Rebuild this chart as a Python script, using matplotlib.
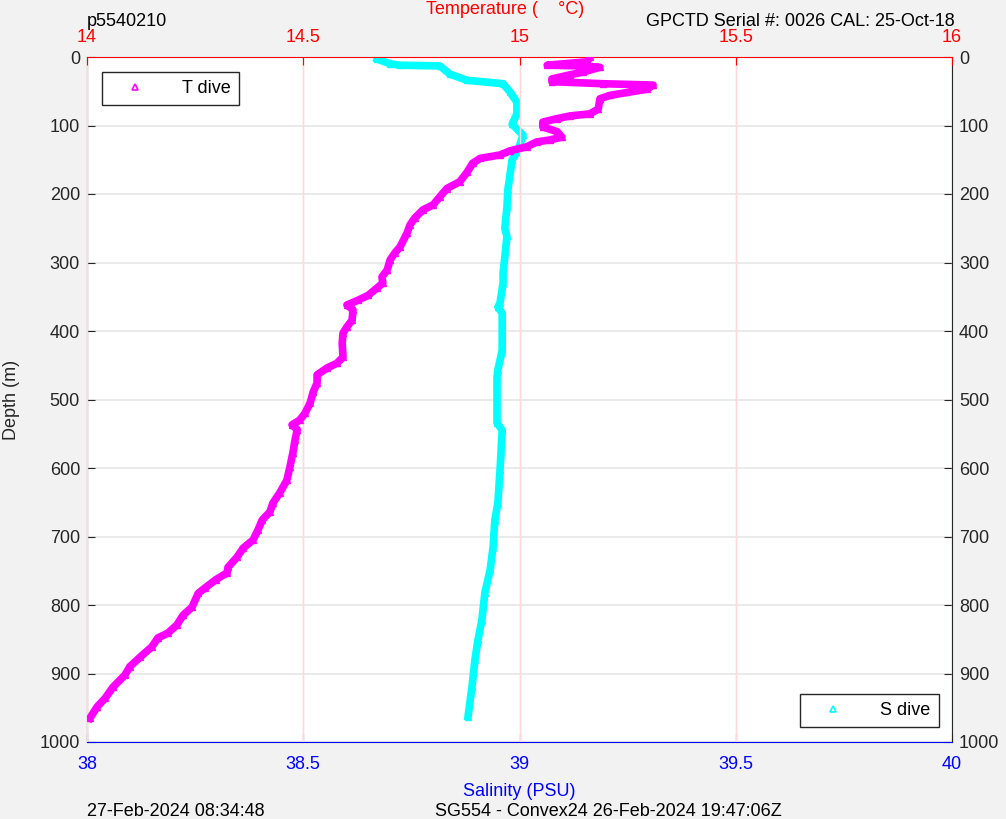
import matplotlib
matplotlib.use("Agg")
import matplotlib.pyplot as plt
from matplotlib.lines import Line2D

plt.rcParams['font.family'] = ['Liberation Sans', 'DejaVu Sans']

# ---- data ----
t_depth = [0, 7, 12, 13, 15, 22, 26, 32, 36, 39, 41, 47, 56, 61, 76, 83, 86, 90, 95, 102,
           109, 117, 121, 124, 131, 137, 143, 148, 155, 168, 182, 192, 204, 216, 223, 235,
           245, 257, 277, 286, 296, 311, 321, 330, 337, 348, 355, 362, 369, 384, 394, 403,
           418, 438, 447, 454, 464, 476, 489, 505, 520, 530, 537, 544, 559, 578, 599, 618,
           636, 651, 664, 676, 691, 705, 717, 730, 745, 753, 763, 775, 783, 803, 815, 829,
           841, 848, 861, 876, 890, 902, 920, 936, 949, 965]
t_temp = [15.163, 15.156, 15.064, 15.147, 15.186, 15.147, 15.117, 15.075, 15.075, 15.193,
          15.309, 15.295, 15.209, 15.186, 15.182, 15.163, 15.117, 15.087, 15.054, 15.054,
          15.087, 15.098, 15.071, 15.040, 15.017, 14.978, 14.955, 14.909, 14.892, 14.879,
          14.862, 14.832, 14.816, 14.800, 14.777, 14.758, 14.747, 14.740, 14.724, 14.712,
          14.701, 14.694, 14.682, 14.684, 14.671, 14.650, 14.627, 14.601, 14.615, 14.613,
          14.601, 14.592, 14.590, 14.592, 14.578, 14.555, 14.532, 14.532, 14.523, 14.516,
          14.504, 14.492, 14.474, 14.486, 14.481, 14.476, 14.469, 14.462, 14.446, 14.430,
          14.423, 14.405, 14.395, 14.384, 14.361, 14.347, 14.326, 14.324, 14.298, 14.273,
          14.257, 14.243, 14.222, 14.208, 14.187, 14.164, 14.150, 14.123, 14.099, 14.088,
          14.060, 14.042, 14.023, 14.007]

s_depth = [3, 10, 12, 13, 25, 34, 39, 51, 66, 83, 98, 114, 128, 139, 150, 194, 219, 250,
           262, 316, 330, 359, 365, 374, 428, 457, 467, 534, 545, 603, 651, 676, 715, 749,
           782, 822, 851, 880, 920, 963]
s_sal = [38.671, 38.701, 38.724, 38.816, 38.839, 38.879, 38.962, 38.978, 38.994, 38.994,
         38.983, 39.008, 39.001, 38.994, 38.983, 38.973, 38.971, 38.966, 38.971, 38.962,
         38.962, 38.955, 38.950, 38.960, 38.960, 38.950, 38.948, 38.948, 38.960, 38.955,
         38.950, 38.943, 38.939, 38.932, 38.920, 38.913, 38.904, 38.897, 38.890, 38.881]

depth_ticks = [0, 100, 200, 300, 400, 500, 600, 700, 800, 900, 1000]
temp_ticks = [14, 14.5, 15, 15.5, 16]
sal_ticks = [38, 38.5, 39, 39.5, 40]
temp_tick_labels = ['14', '14.5', '15', '15.5', '16']
sal_tick_labels = ['38', '38.5', '39', '39.5', '40']

# ---- figure ----
W, H = 1006, 819
fig = plt.figure(figsize=(W / 100, H / 100), dpi=100)
fig.patch.set_facecolor('#f2f2f2')

L, R, T, B = 87, 952, 57, 742
axS = fig.add_axes([L / W, 1 - B / H, (R - L) / W, (B - T) / H])
axT = axS.twiny()
axT.patch.set_visible(False)

dark = '#262626'
fs = 13

# salinity axes (bottom)
axS.set_xlim(38, 40)
axS.set_ylim(1000, 0)
axS.set_xticks(sal_ticks)
axS.set_xticklabels(sal_tick_labels)
axS.set_yticks(depth_ticks)
axS.tick_params(axis='x', colors='blue', labelsize=fs, direction='in', length=6,
                pad=10, top=False)
axS.tick_params(axis='y', colors=dark, labelsize=fs, direction='in', length=6,
                left=True, right=True, labelleft=True, labelright=True, pad=5)
axS.yaxis.grid(True, color='#e6e6e6', linewidth=1.2)
axS.set_axisbelow(True)
for sp in ['left', 'right']:
    axS.spines[sp].set_color(dark)
axS.spines['bottom'].set_color('blue')
axS.spines['top'].set_visible(False)
axS.set_xlabel('Salinity (PSU)', color='blue', fontsize=fs, labelpad=7)
axS.set_ylabel('Depth (m)', color=dark, fontsize=fs, labelpad=14)

# temperature axes (top)
axT.set_xlim(14, 16)
axT.set_xticks(temp_ticks)
axT.set_xticklabels(temp_tick_labels)
axT.tick_params(axis='x', colors='red', labelsize=fs, direction='in', length=6, pad=8)
axT.xaxis.grid(True, color='#ffd9d9', linewidth=1.0)
axS.xaxis.grid(True, color='#ffd9d9', linewidth=1.0)
axT.spines['top'].set_color('red')
for sp in ['left', 'right', 'bottom']:
    axT.spines[sp].set_visible(False)

# data
axS.plot(s_sal, s_depth, color='cyan', linewidth=5.5, marker='^', markersize=5,
         markeredgewidth=1, zorder=3, solid_joinstyle='round')
axT.plot(t_temp, t_depth, color='magenta', linewidth=5.5, marker='^', markersize=5,
         markeredgewidth=1, zorder=3, solid_joinstyle='round')

# legends
hT = Line2D([], [], color='magenta', marker='^', linestyle='none', markersize=4,
            markerfacecolor='none', markeredgewidth=1.2)
hS = Line2D([], [], color='cyan', marker='^', linestyle='none', markersize=4,
            markerfacecolor='none', markeredgewidth=1.2)
legT = axT.legend([hT], ['T dive'], loc='upper left',
                  bbox_to_anchor=((102 - L) / (R - L), (B - 72) / (B - T)),
                  borderaxespad=0, fontsize=fs, fancybox=False, edgecolor=dark,
                  framealpha=1, handlelength=2.8, handletextpad=1.2, borderpad=0.45)
legT.get_frame().set_linewidth(1.0)
legS = axS.legend([hS], ['S dive'], loc='upper left',
                  bbox_to_anchor=((800 - L) / (R - L), (B - 694) / (B - T)),
                  borderaxespad=0, fontsize=fs, fancybox=False, edgecolor=dark,
                  framealpha=1, handlelength=2.8, handletextpad=1.2, borderpad=0.45)
legS.get_frame().set_linewidth(1.0)

# titles / annotations
fig.text(87 / W, 1 - 22 / H, 'p5540210', fontsize=fs, color='black', ha='left', va='center')
fig.text(505 / W, 1 - 10 / H, 'Temperature (    \u00b0C)', fontsize=fs, color='red',
         ha='center', va='center')
fig.text(955 / W, 1 - 22 / H, 'GPCTD Serial #: 0026 CAL: 25-Oct-18', fontsize=fs,
         color='black', ha='right', va='center')
fig.text(87 / W, 1 - 811 / H, '27-Feb-2024 08:34:48', fontsize=fs, color='black',
         ha='left', va='center')
fig.text(435 / W, 1 - 811 / H, 'SG554 - Convex24 26-Feb-2024 19:47:06Z', fontsize=fs,
         color='black', ha='left', va='center')

fig.savefig('out.png', dpi=100, facecolor=fig.get_facecolor())
